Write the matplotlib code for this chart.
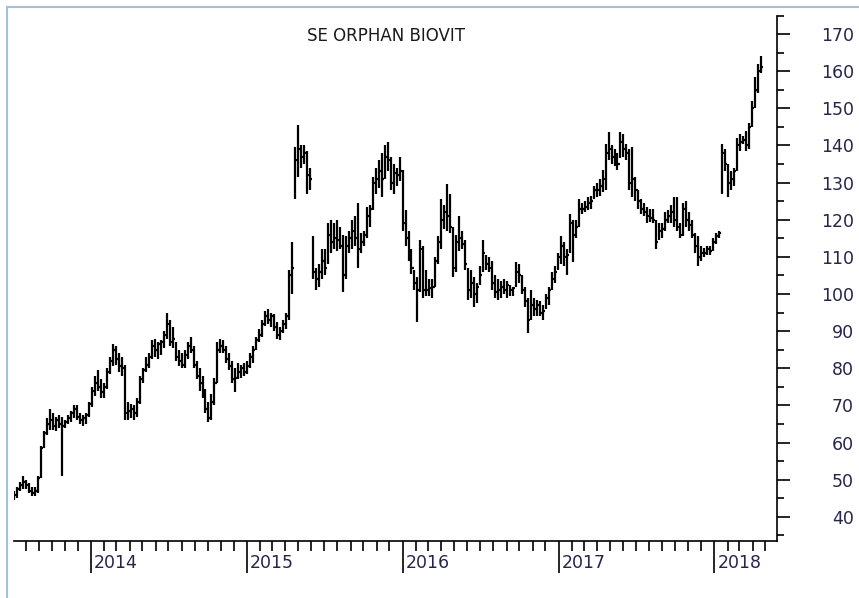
import numpy as np
import pandas as pd
import matplotlib
matplotlib.use('Agg')
import matplotlib.pyplot as plt
import matplotlib.dates as mdates
from matplotlib.ticker import MultipleLocator
from matplotlib.transforms import blended_transform_factory, offset_copy
from matplotlib.patches import Rectangle

# weekly bars, SE ORPHAN BIOVIT
start_date = '2013-07-05'

highs = [
    47, 48, 49.5, 51, 50, 49, 48, 48, 51, 59,
    63, 66.5, 69, 68, 67, 67.5, 67, 66, 67.5, 68.5,
    70, 70, 68, 67.5, 68, 71, 75, 78, 79.5, 77,
    76, 80, 83, 86.5, 86, 84, 83, 81, 71, 70.5,
    70, 72, 78, 80, 83, 84, 87.5, 88, 87, 87.5,
    90, 95, 93, 91, 87, 85, 84, 85, 87, 88.5,
    86, 82, 80, 78, 74.5, 71, 73, 77.5, 87, 88,
    87.5, 86, 84, 82, 80, 81.5, 81, 81.5, 82, 84,
    86, 88.5, 90.5, 93, 95.5, 96, 95, 94.5, 92.5, 91,
    93, 95, 106.5, 114, 139.5, 145.5, 140, 140, 138.5, 134,
    115.5, 107, 108, 112, 112, 119, 120, 119, 120, 118,
    116, 115.5, 117, 120, 121, 124.5, 116.5, 117, 123.5, 124,
    131.5, 134, 136, 138, 140, 141, 137, 135, 134, 137,
    133.5, 122.5, 117, 112, 106.5, 104.5, 114.5, 113, 106.5, 104,
    104, 110, 115.5, 125.5, 124, 129.5, 127, 118, 116, 121,
    117, 114.5, 107, 106.5, 104.5, 103, 107.5, 114.5, 110.5, 110,
    109, 105, 104, 103.5, 104, 103.5, 102.5, 102, 108.5, 108,
    105, 102, 99, 101, 99, 98.5, 98, 97, 100, 102,
    106, 107.5, 111, 115.5, 114, 112, 121.5, 120, 120, 125.5,
    124.5, 125, 126, 126.5, 129, 130, 131, 133.5, 140.5, 143.5,
    140, 139, 138, 143.5, 143, 140.5, 139, 139.5, 131.5, 128,
    125.5, 124.5, 123.5, 123, 123, 120, 119, 119, 122, 122.5,
    124, 126, 126, 119, 124.5, 125, 122, 120, 116.5, 115.5,
    113, 112.5, 113, 113, 115, 116.5, 117, 140.5, 139, 135,
    133, 134, 142, 143, 142.5, 144, 146, 152, 158.5, 162,
    164,
]

lows = [
    44.5, 45, 47, 47.5, 47.5, 46.5, 45.5, 45.5, 46.5, 50.5,
    58.5, 62, 63.5, 63.5, 63, 64, 51, 64, 65, 65.5,
    66.5, 66, 65, 64.5, 65, 67, 69.5, 72.5, 74, 72,
    72, 74.5, 78.5, 80.5, 81, 79, 78, 66, 66, 66.5,
    66, 67, 70.5, 76, 79, 80, 82.5, 83, 82.5, 83.5,
    85.5, 88, 86, 85.5, 82, 80.5, 80, 80, 82.5, 84,
    80, 77, 74, 72, 68, 65.5, 66, 70, 76, 84,
    84, 81.5, 79.5, 76, 73.5, 77, 77.5, 78, 78.5, 80,
    81.5, 85, 87, 88.5, 91.5, 92, 91, 90, 88, 87.5,
    89.5, 90.5, 93, 100, 125.5, 131.5, 134, 135, 127, 128,
    104, 101, 102, 104, 105, 108, 111, 112, 111.5, 112,
    100.5, 104, 111, 112, 113, 107, 111, 113, 115, 118,
    122.5, 127, 128.5, 126, 131, 133, 128, 127, 129, 130.5,
    117, 113, 109, 105.5, 101, 92.5, 100.5, 99, 99.5, 99.5,
    99, 102, 108, 112, 117.5, 117, 116.5, 104.5, 106, 111.5,
    112, 106.5, 98.5, 99, 96.5, 97.5, 102.5, 106, 106.5, 106,
    101, 99, 98.5, 99, 100, 99, 99.5, 99.5, 102, 103,
    100, 96.5, 89.5, 93, 94, 94, 94, 93, 96, 97,
    101, 103, 106.5, 108, 107.5, 105, 111, 108.5, 115, 118,
    121.5, 122, 122.5, 123, 125.5, 126, 126.5, 127.5, 128, 136,
    135, 134.5, 133.5, 136.5, 137, 136, 128, 126, 125, 123,
    121.5, 121, 119, 119.5, 119, 112, 114.5, 115, 117, 119,
    119, 118, 117, 115, 115.5, 118, 117, 115, 111, 107.5,
    109, 110, 110.5, 110.5, 111.5, 113.5, 115, 127, 133, 126,
    128, 129, 133, 138.5, 140.5, 138.5, 139, 145, 150, 154,
    159.5,
]

closes = [
    46, 47.5, 48.5, 49.5, 48.5, 47, 46.5, 47, 50.5, 58.5,
    62.5, 65, 66, 64.5, 66, 65, 64.5, 65.5, 66.5, 68,
    69, 67, 66, 66.5, 67.5, 70.5, 74, 76, 75, 73.5,
    75, 79, 82, 85, 82.5, 80.5, 80, 68, 68.5, 69,
    68, 71, 77, 79.5, 81, 83, 86, 85, 86.5, 87,
    89, 92, 87, 88, 83, 82, 81, 83.5, 86, 85,
    81, 78, 76, 73, 69, 66.5, 71, 76, 85, 86,
    85, 82.5, 80.5, 77, 77.5, 79, 80, 79, 80.5, 83,
    85, 87.5, 89, 92, 94, 93, 94, 91, 89, 90,
    92, 94, 105, 107, 136, 139, 137, 138, 132, 131,
    106, 104, 106, 109, 107, 116, 114, 115, 114.5, 113,
    105, 113, 115, 117, 115, 112, 114, 116, 121, 123,
    130, 131, 133, 131, 137, 136, 130, 132.5, 132, 133,
    119, 115, 111, 107, 103, 101, 112, 101, 101, 101.5,
    102, 109, 114, 120, 122, 121, 118, 107, 114, 115,
    113.5, 108, 101, 103, 100, 102, 105, 111, 108, 107,
    103, 100.5, 101, 102, 101, 102.5, 101, 101.5, 106, 105,
    101, 98, 93, 97, 96, 97, 95, 95.5, 99, 101,
    104, 106, 110, 113, 110, 110.5, 119, 116, 118, 123,
    123, 123.5, 124.5, 125, 128, 128, 129, 131, 138, 139,
    137, 136, 135, 141, 139, 138, 130, 131, 128, 125,
    123, 122, 121, 120.5, 120, 114, 117, 117.5, 120, 121,
    122, 120, 118, 116, 123, 120, 118.5, 116, 113, 110,
    111, 111, 112, 111.5, 114, 115.5, 116.5, 138, 135, 130,
    131, 133, 140, 141, 141.5, 140, 145, 150, 155, 160,
    161,
]

years = ['2014', '2015', '2016', '2017', '2018']
y_ticks = list(range(40, 171, 10))

dates = pd.date_range(start_date, periods=len(highs), freq='7D')

fig = plt.figure(figsize=(8.59, 5.98), dpi=100)
ax = fig.add_axes([14 / 859, 57 / 598, 763 / 859, 525.5 / 598])

text_color = '#26264a'

# high-low line plus close tick on the right
ax.vlines(dates, lows, highs, color='black', linewidth=1.6)
ax.hlines(closes, dates, dates + pd.Timedelta(days=5), color='black', linewidth=1.6)

ax.set_xlim(pd.Timestamp('2013-07-04'), pd.Timestamp('2018-05-28'))
ax.set_ylim(33.5, 175)

for side in ['left', 'top']:
    ax.spines[side].set_visible(False)
for side in ['bottom', 'right']:
    ax.spines[side].set_linewidth(1.2)
    ax.spines[side].set_color('black')

# x axis: years as long ticks, months as short ticks
ax.xaxis.set_major_locator(mdates.YearLocator())
ax.xaxis.set_minor_locator(mdates.MonthLocator())
ax.tick_params(axis='x', which='major', length=23, width=1.2, direction='out', labelbottom=False)
ax.tick_params(axis='x', which='minor', length=7.2, width=1.2, direction='out')

trans = blended_transform_factory(ax.transData, ax.transAxes)
trans = offset_copy(trans, fig=fig, x=3, y=0, units='dots')
for yr in years:
    ax.text(pd.Timestamp(yr + '-01-01'), -0.042, yr, transform=trans, ha='left', va='center',
            fontsize=12.5, color=text_color, family='DejaVu Sans')

# y axis on the right
ax.yaxis.tick_right()
ax.set_yticks(y_ticks)
ax.yaxis.set_minor_locator(MultipleLocator(5))
ax.tick_params(axis='y', which='major', length=9.4, width=1.2, direction='out', pad=46,
               labelsize=12.5, labelcolor=text_color)
ax.tick_params(axis='y', which='minor', length=5, width=1.2, direction='out')
plt.setp(ax.get_yticklabels(), ha='right')

fig.text(386 / 859, 1 - 36 / 598, 'SE ORPHAN BIOVIT', ha='center', va='center',
         fontsize=12, color='#1a1a1a')

# light blue window frame
frame = Rectangle((7 / 859, -0.05), 1.1, 1 - 7 / 598 + 0.05, transform=fig.transFigure,
                  fill=False, edgecolor='#a3c0da', linewidth=1.5, clip_on=False)
fig.patches.append(frame)

fig.savefig('out.png', dpi=100)
